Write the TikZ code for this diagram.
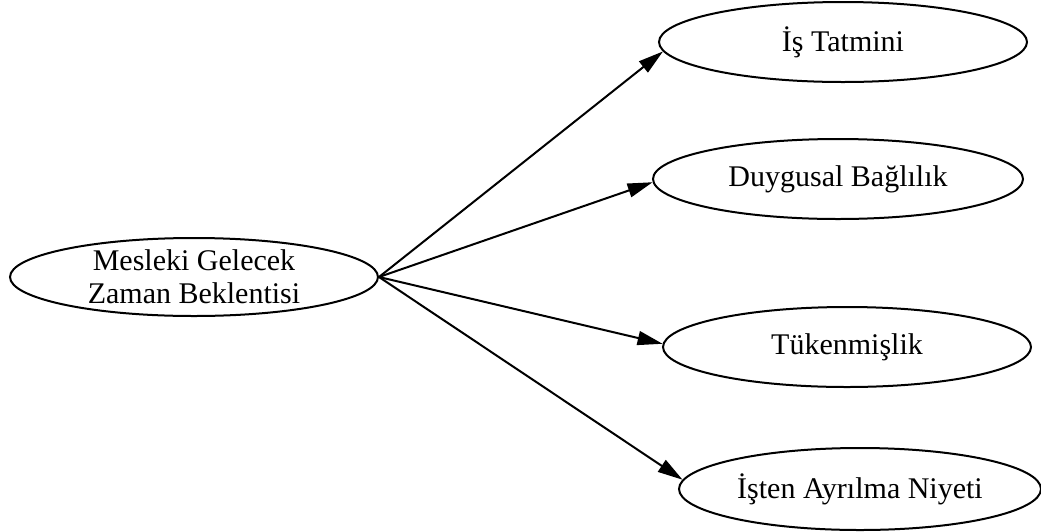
\documentclass[tikz,border=0pt]{standalone}
\usepackage{fontspec}
\setmainfont{Liberation Serif}
\usetikzlibrary{shapes.geometric,arrows.meta}
\begin{document}
\begin{tikzpicture}[x=1pt,y=-1pt,
  ov/.style={draw=black,line width=2pt,ellipse,inner sep=0pt,minimum width=368pt,minimum height=80pt,align=center,font=\fontsize{30}{33}\selectfont},
  edge/.style={line width=2pt,-{Triangle[length=25pt,width=14pt]}}]
\useasboundingbox (0,0) rectangle (1041,531);
\node[ov,minimum height=78pt] (src) at (194,277) {Mesleki Gelecek\\Zaman Beklentisi};
\node[ov] (t1) at (843,42) {İş Tatmini};
\node[ov,minimum width=370pt] (t2) at (838,179) {Duygusal Bağlılık};
\node[ov] (t3) at (847,347) {Tükenmişlik};
\node[ov,minimum width=362pt,minimum height=82pt] (t4) at (860,489) {İşten Ayrılma Niyeti};
\draw[edge] (src.east) -- (t1.183);
\draw[edge] (src.east) -- (t2.181);
\draw[edge] (src.east) -- (t3.179.5);
\draw[edge] (src.east) -- (t4.177.5);
\end{tikzpicture}
\end{document}
